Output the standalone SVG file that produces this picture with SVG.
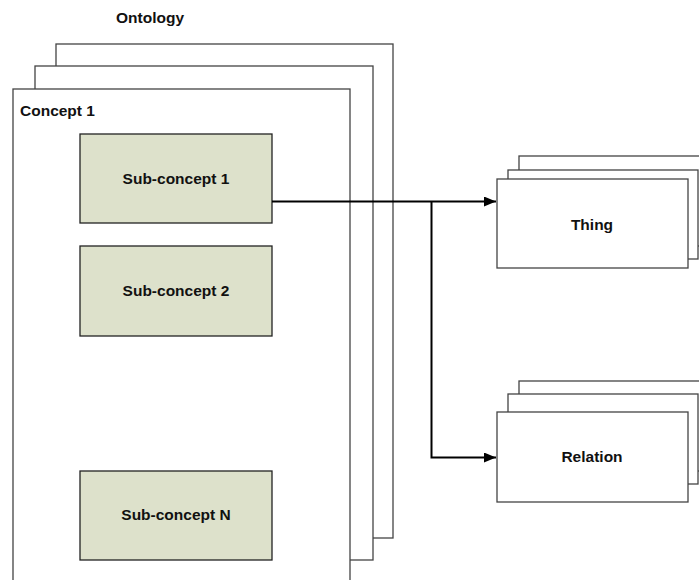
<svg xmlns="http://www.w3.org/2000/svg" width="699" height="580" viewBox="0 0 699 580">
<style>
text{font-family:"Liberation Sans",Arial,sans-serif;font-weight:bold;font-size:15.5px;fill:#111}
.frame{fill:#fff;stroke:#444;stroke-width:1.3}
.sub{fill:#dde1cb;stroke:#222;stroke-width:1.3}
.conn{fill:none;stroke:#000;stroke-width:2}
.c{text-anchor:middle}
</style>
<defs>
<marker id="arr" viewBox="0 0 12 10" refX="12" refY="5" markerWidth="12" markerHeight="10" markerUnits="userSpaceOnUse" orient="auto">
<path d="M0,0 L12,5 L0,10 Z" fill="#000"/>
</marker>
</defs>
<text x="116" y="23">Ontology</text>
<g id="ontology">
<rect class="frame" x="56" y="44" width="337" height="494"/>
<rect class="frame" x="35" y="66" width="338" height="494"/>
<rect class="frame" x="13" y="89" width="337" height="500"/>
<text x="20" y="116">Concept 1</text>
</g>
<g id="sub1">
<rect class="sub" x="80" y="134" width="192" height="89"/>
<text class="c" x="176" y="184">Sub-concept 1</text>
</g>
<g id="sub2">
<rect class="sub" x="80" y="246" width="192" height="90"/>
<text class="c" x="176" y="296">Sub-concept 2</text>
</g>
<g id="subN">
<rect class="sub" x="80" y="471" width="192" height="89"/>
<text class="c" x="176" y="520">Sub-concept N</text>
</g>
<g id="thing">
<rect class="frame" x="519" y="156" width="191" height="90"/>
<rect class="frame" x="508" y="170" width="190" height="89"/>
<rect class="frame" x="497" y="179" width="191" height="89"/>
<text class="c" x="592" y="230">Thing</text>
</g>
<g id="relation">
<rect class="frame" x="519" y="381" width="191" height="90"/>
<rect class="frame" x="508" y="394" width="190" height="90"/>
<rect class="frame" x="497" y="412" width="191" height="90"/>
<text class="c" x="592" y="462">Relation</text>
</g>
<g id="connectors">
<path class="conn" d="M272,201.5 H496" marker-end="url(#arr)"/>
<path class="conn" d="M431.5,201.5 V457.5 H496" marker-end="url(#arr)"/>
</g>
</svg>
